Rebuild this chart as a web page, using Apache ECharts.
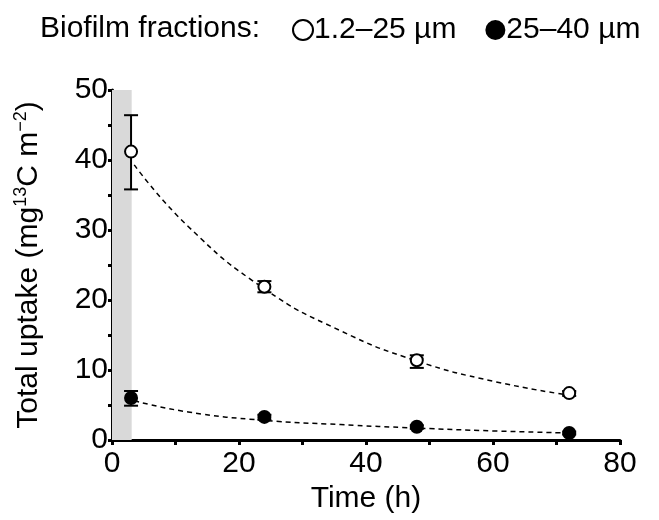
<!DOCTYPE html>
<html>
<head>
<meta charset="utf-8">
<script src="https://cdn.jsdelivr.net/npm/echarts@6/dist/echarts.min.js"></script>
<style>
  html, body { margin: 0; padding: 0; background: #fff; }
  #chart { width: 659px; height: 520px; }
</style>
</head>
<body>
<div id="chart"></div>
<script>
// measured points
const times = [3, 24, 48, 72];
const smallFrac = [41.2, 21.9, 11.4, 6.7];   // 1.2–25 µm
const largeFrac = [6.0, 3.3, 1.9, 1.0];      // 25–40 µm
// error bars [time, low, high]
const smallErr = [[3, 35.8, 46.4], [24, 21.1, 22.7], [48, 10.3, 12.1], [72, 6.3, 7.0]];
const largeErr = [[3, 4.9, 7.0], [24, 2.9, 3.6], [48, 1.6, 2.1], [72, 0.8, 1.2]];
// dashed fitted curves
const fitTimes = [3.5, 12, 24, 36, 48, 60, 72];
const smallFit = [39.3, 30.5, 21.6, 15.6, 11.3, 8.4, 6.4];
const largeFit = [5.6, 4.0, 2.8, 2.2, 1.7, 1.3, 1.0];
// grey incubation band
const band = [0, 3.1];

const font = 'Liberation Sans, Arial, sans-serif';
const chart = echarts.init(document.getElementById('chart'));

const pairs = (xs, ys) => xs.map((x, i) => [x, ys[i]]);

function errorBars(data) {
    return {
        type: 'custom',
        z: 3,
        data: data,
        encode: { x: 0, y: [1, 2] },
        renderItem: function (params, api) {
            const lo = api.coord([api.value(0), api.value(1)]);
            const hi = api.coord([api.value(0), api.value(2)]);
            const w = 7;
            const st = { stroke: '#000', lineWidth: 2 };
            return {
                type: 'group',
                children: [
                    { type: 'line', shape: { x1: lo[0], y1: lo[1], x2: hi[0], y2: hi[1] }, style: st },
                    { type: 'line', shape: { x1: lo[0] - w, y1: lo[1], x2: lo[0] + w, y2: lo[1] }, style: st },
                    { type: 'line', shape: { x1: hi[0] - w, y1: hi[1], x2: hi[0] + w, y2: hi[1] }, style: st }
                ]
            };
        },
        silent: true
    };
}

chart.setOption({
    animation: false,
    title: {
        text: 'Biofilm fractions:',
        left: 40, top: 14, padding: 0,
        textStyle: { fontFamily: font, fontSize: 30, fontWeight: 'normal', color: '#000' }
    },
    legend: {
        left: 292, top: 15, padding: 0,
        itemWidth: 20, itemHeight: 20, itemGap: 29,
        textStyle: { fontFamily: font, fontSize: 30, color: '#000', padding: [0, 0, 0, -4] },
        data: [
            { name: '1.2–25 µm', icon: 'circle', itemStyle: { color: '#fff', borderColor: '#000', borderWidth: 2 } },
            { name: '25–40 µm', icon: 'circle', itemStyle: { color: '#000' } }
        ]
    },
    grid: { left: 112, right: 39, top: 90, bottom: 80, outerBoundsMode: 'none' },
    xAxis: {
        type: 'value', min: 0, max: 80, interval: 10,
        name: 'Time (h)', nameLocation: 'middle', nameGap: 42,
        nameTextStyle: { fontFamily: font, fontSize: 30, color: '#000' },
        axisLine: { lineStyle: { color: '#000', width: 3 } },
        axisTick: { lineStyle: { color: '#000', width: 3 }, length: 5 },
        axisLabel: {
            fontFamily: font, fontSize: 30, color: '#000', margin: 9,
            formatter: v => (v % 20 === 0 ? v : '')
        },
        splitLine: { show: false }
    },
    yAxis: {
        type: 'value', min: 0, max: 50, interval: 5,
        name: 'Total uptake (mg{sup|13}C m{sup|−2})', nameLocation: 'middle', nameGap: 66,
        nameTextStyle: {
            fontFamily: font, fontSize: 30, color: '#000',
            rich: { sup: { fontFamily: font, fontSize: 18, verticalAlign: 'top', lineHeight: 34, color: '#000' } }
        },
        axisLine: { show: true, lineStyle: { color: '#000', width: 3 } },
        axisTick: { show: true, lineStyle: { color: '#000', width: 3 }, length: 4 },
        axisLabel: {
            fontFamily: font, fontSize: 30, color: '#000', margin: 4,
            formatter: v => (v % 10 === 0 ? v : '')
        },
        splitLine: { show: false }
    },
    series: [
        {
            type: 'line', name: 'band', data: [], silent: true,
            markArea: {
                silent: true,
                itemStyle: { color: '#d9d9d9' },
                data: [[{ xAxis: band[0] }, { xAxis: band[1] }]]
            }
        },
        {
            type: 'line', data: pairs(fitTimes, smallFit), smooth: true, symbol: 'none', z: 2,
            lineStyle: { color: '#000', width: 1.5, type: [5, 4] }, silent: true
        },
        {
            type: 'line', data: pairs(fitTimes, largeFit), smooth: true, symbol: 'none', z: 2,
            lineStyle: { color: '#000', width: 1.5, type: [5, 4] }, silent: true
        },
        errorBars(smallErr),
        errorBars(largeErr),
        {
            name: '1.2–25 µm', type: 'scatter', data: pairs(times, smallFrac), z: 5,
            symbol: 'circle', symbolSize: 12,
            itemStyle: { color: '#fff', borderColor: '#000', borderWidth: 2, opacity: 1 }
        },
        {
            name: '25–40 µm', type: 'scatter', data: pairs(times, largeFrac), z: 5,
            symbol: 'circle', symbolSize: 14,
            itemStyle: { color: '#000', opacity: 1 }
        }
    ]
});
</script>
</body>
</html>
